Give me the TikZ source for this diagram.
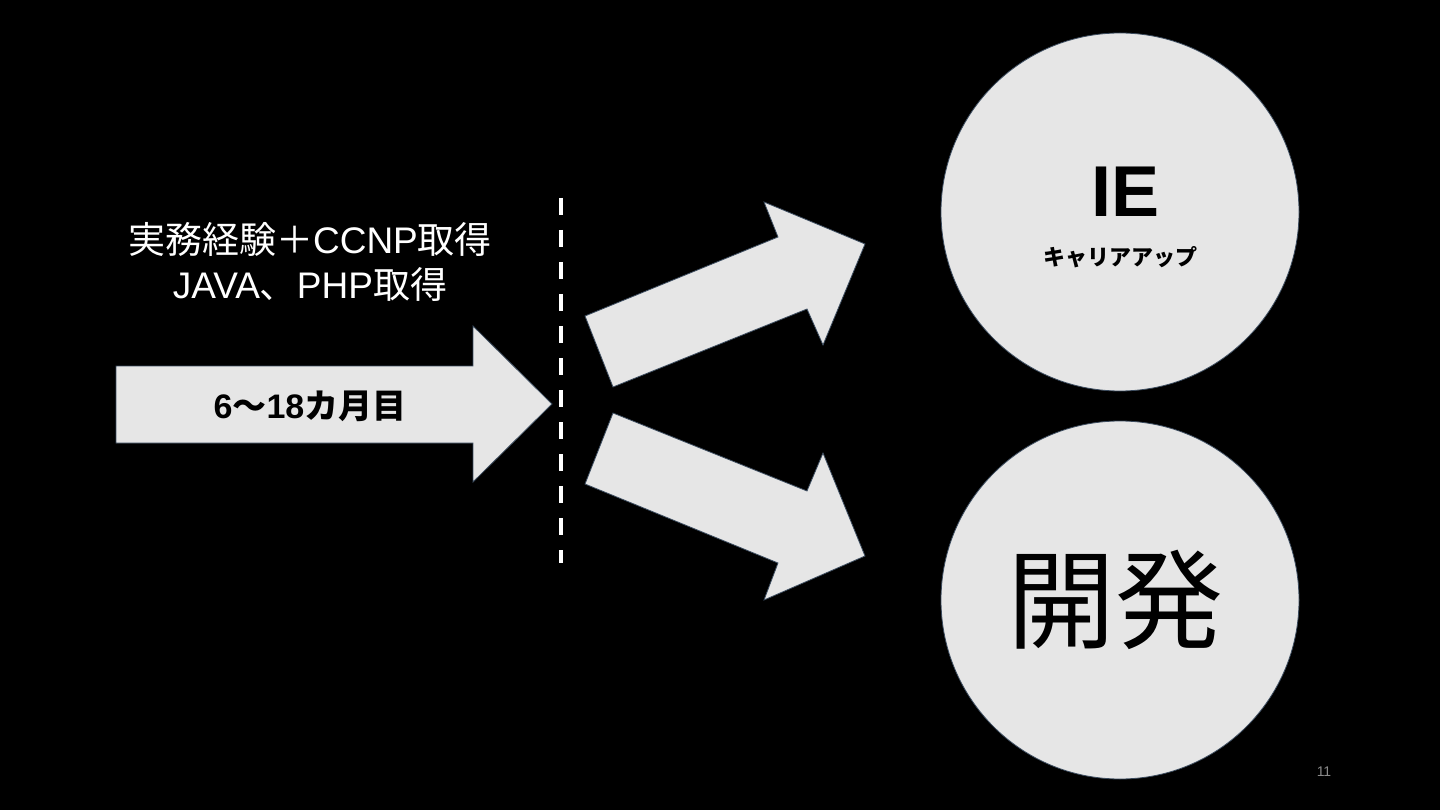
\documentclass[tikz,border=0pt]{standalone}
\usepackage{fontspec}
\setmainfont{Noto Sans CJK JP}
\newfontfamily\lat{Liberation Sans}
\usetikzlibrary{positioning}
\definecolor{svetla}{HTML}{E6E6E6}
\definecolor{okraj}{HTML}{3B4B5E}
\definecolor{cislo}{HTML}{8A8A8A}
\tikzset{
  blok/.style={fill=svetla,draw=okraj,line width=0.8pt,line join=miter},
  kruh/.style={circle,fill=svetla,draw=okraj,line width=0.8pt,minimum size=358pt,inner sep=0pt},
  carka/.style={white,line width=3.5pt,dash pattern=on 17pt off 15pt},
  popis/.style={text=white,font=\fontsize{37}{45}\selectfont,align=center,inner sep=0pt},
}

\begin{document}
\begin{tikzpicture}[x=1pt,y=-1pt]
  \fill[black] (0,0) rectangle (1440,810);
  \useasboundingbox (0,0) rectangle (1440,810);
  % period arrow
  \draw[blok] (116,366) -- (473,366) -- (473,326) -- (552,404) -- (473,482) -- (473,443) -- (116,443) -- cycle;
  \node[inner sep=0pt,font=\bfseries\fontsize{34}{40}\selectfont] (obdobi) at (310,406) {{\lat 6}〜{\lat 18}カ月目};
  \node[popis] (cile) at (310,262) {実務経験＋{\lat CCNP}取得\\{\lat JAVA}、{\lat PHP}取得};
  % divider
  \coordinate (c1) at (561,198);
  \coordinate (c2) at (561,563);
  \draw[carka] (c1) -- (c2);
  % branches
  \draw[blok] (585,316) -- (778,237) -- (764,202) -- (865,244) -- (823,345) -- (807,309) -- (613,387) -- cycle;
  \draw[blok] (613,413) -- (807,491) -- (823,453) -- (865,556) -- (764,600) -- (778,563) -- (585,484) -- cycle;
  % goals
  \node[kruh] (ie) at (1120,212) {};
  \node[kruh] (vyvoj) at (1120,600) {};
  \node[inner sep=0pt,font=\lat\bfseries\fontsize{72}{72}\selectfont] (ietxt) at (1125,192) {IE};
  \node[inner sep=0pt,font=\bfseries\fontsize{22}{24}\selectfont] (kariera) at (1120,257) {キャリアアップ};
  \node[inner sep=0pt,font=\fontsize{108}{108}\selectfont] (vyvojtxt) at (1115,600) {開発};
  \node[inner sep=0pt,text=cislo,font=\lat\fontsize{14}{16}\selectfont] (strana) at (1324,772) {11};
\end{tikzpicture}
\end{document}
